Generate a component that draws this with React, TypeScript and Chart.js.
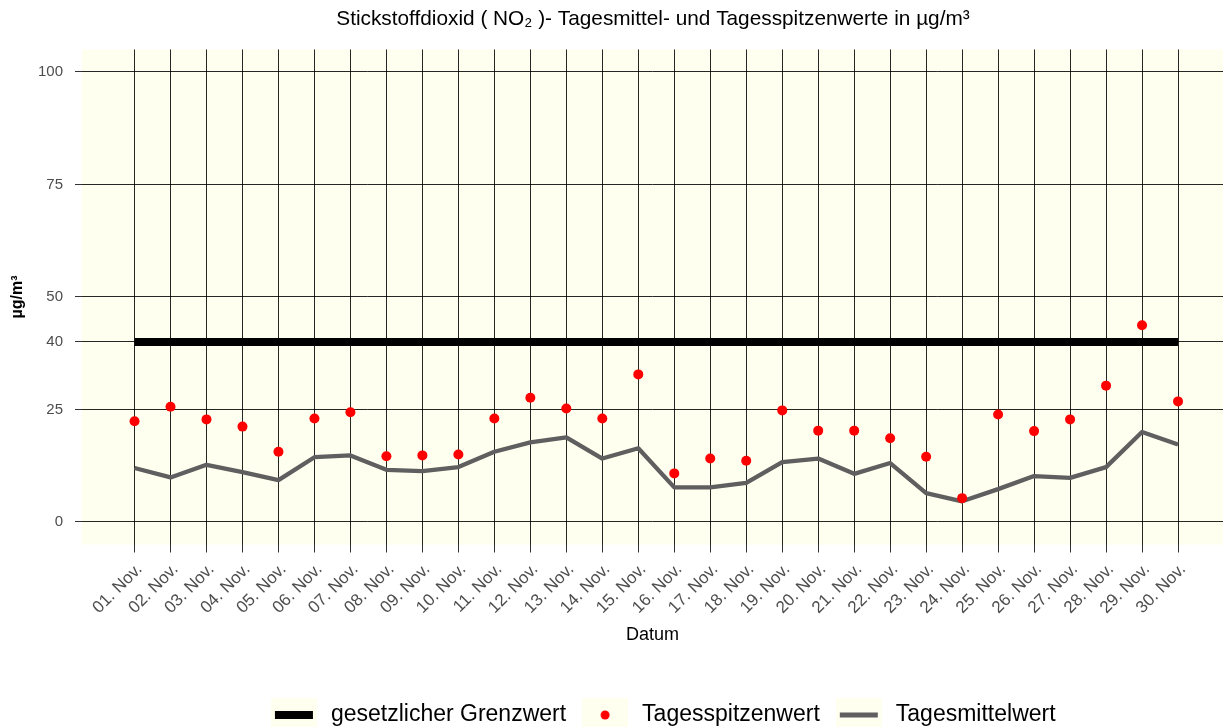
import React, { useEffect, useRef } from 'react';
import { Chart, registerables } from 'chart.js';

Chart.register(...registerables);

const days = [1, 2, 3, 4, 5, 6, 7, 8, 9, 10, 11, 12, 13, 14, 15, 16, 17, 18, 19, 20, 21, 22, 23, 24, 25, 26, 27, 28, 29, 30];
const tickLabels = [
  '01. Nov.', '02. Nov.', '03. Nov.', '04. Nov.', '05. Nov.', '06. Nov.', '07. Nov.', '08. Nov.', '09. Nov.', '10. Nov.',
  '11. Nov.', '12. Nov.', '13. Nov.', '14. Nov.', '15. Nov.', '16. Nov.', '17. Nov.', '18. Nov.', '19. Nov.', '20. Nov.',
  '21. Nov.', '22. Nov.', '23. Nov.', '24. Nov.', '25. Nov.', '26. Nov.', '27. Nov.', '28. Nov.', '29. Nov.', '30. Nov.',
];
const peakValues = [22.4, 25.6, 22.8, 21.2, 15.6, 23.0, 24.4, 14.6, 14.8, 15.0, 23.0, 27.6, 25.2, 23.0, 32.8, 10.8, 14.1, 13.6, 24.8, 20.3, 20.3, 18.6, 14.5, 5.3, 23.9, 20.2, 22.8, 30.3, 43.7, 26.8];
const meanValues = [12.0, 9.9, 12.7, 11.1, 9.3, 14.4, 14.8, 11.6, 11.3, 12.2, 15.6, 17.7, 18.8, 14.1, 16.4, 7.7, 7.7, 8.7, 13.3, 14.1, 10.7, 13.1, 6.4, 4.6, 7.3, 10.2, 9.8, 12.2, 20.0, 17.2];
const limitValue = 40;
const yTicks = [0, 25, 40, 50, 75, 100];

const FONT = "'Liberation Sans', Arial, sans-serif";
const PANEL_BG = '#fffff0';

function makeKey(kind: 'thick' | 'dot' | 'grey'): HTMLCanvasElement {
  const c = document.createElement('canvas');
  c.width = 46;
  c.height = 34;
  const ctx = c.getContext('2d')!;
  ctx.fillStyle = PANEL_BG;
  ctx.fillRect(0, 0, 46, 34);
  if (kind === 'dot') {
    ctx.fillStyle = '#ff0000';
    ctx.beginPath();
    ctx.arc(23, 17, 4.5, 0, Math.PI * 2);
    ctx.fill();
  } else {
    ctx.strokeStyle = kind === 'thick' ? '#000000' : '#5f5f5f';
    ctx.lineWidth = kind === 'thick' ? 8 : 5;
    ctx.beginPath();
    ctx.moveTo(4, 17);
    ctx.lineTo(42, 17);
    ctx.stroke();
  }
  return c;
}

export default function App() {
  const ref = useRef<HTMLCanvasElement | null>(null);

  useEffect(() => {
    document.body.style.margin = '0';
    const canvas = ref.current;
    if (!canvas) return;

    const keys = {
      limit: makeKey('thick'),
      peak: makeKey('dot'),
      mean: makeKey('grey'),
    };

    const bgPlugin = {
      id: 'panelBg',
      afterLayout(chart: any) {
        const area = chart.chartArea;
        const extra = chart.width - area.right;
        if (extra > 0) {
          area.right = chart.width;
          area.width = area.right - area.left;
          const xs = chart.scales.x;
          xs.right = chart.width;
          xs.width = xs.right - xs.left;
          xs.configure();
          const ys = chart.scales.y;
          ys.configure();
        }
        if (chart.legend) {
          chart.legend.left += 12;
          chart.legend.right += 12;
        }
        if (chart.titleBlock) {
          chart.titleBlock.left += 3;
          chart.titleBlock.right += 3;
        }
      },
      beforeDraw(chart: any) {
        const { ctx, chartArea } = chart;
        ctx.save();
        ctx.fillStyle = '#ffffff';
        ctx.fillRect(0, 0, chart.width, chart.height);
        ctx.fillStyle = PANEL_BG;
        ctx.fillRect(chartArea.left, chartArea.top, chartArea.right - chartArea.left, chartArea.bottom - chartArea.top);
        ctx.restore();
      },
    };

    const chart = new Chart(canvas, {
      type: 'line',
      data: {
        datasets: [
          {
            label: 'Tagesspitzenwert',
            data: days.map((d, i) => ({ x: d, y: peakValues[i] })),
            showLine: false,
            pointRadius: 5,
            pointBackgroundColor: '#ff0000',
            pointBorderWidth: 0,
            pointBorderColor: '#ff0000',
            order: 0,
          },
          {
            label: 'Tagesmittelwert',
            data: days.map((d, i) => ({ x: d, y: meanValues[i] })),
            borderColor: '#5f5f5f',
            borderWidth: 4.3,
            pointRadius: 0,
            borderJoinStyle: 'round',
            order: 1,
          },
          {
            label: 'gesetzlicher Grenzwert',
            data: days.map((d) => ({ x: d, y: limitValue })),
            borderColor: '#000000',
            borderWidth: 8,
            pointRadius: 0,
            order: 2,
          },
        ],
      },
      options: {
        animation: false,
        responsive: false,
        events: [],
        layout: { padding: { left: 0, right: 0, top: 0, bottom: -9.5 } },
        scales: {
          x: {
            type: 'linear',
            min: 1 - 1.46,
            max: 30 + 1.25,
            afterBuildTicks: (s: any) => {
              s.ticks = days.map((v) => ({ value: v }));
            },
            afterFit: (s: any) => {
              s.height = 145.5;
            },
            ticks: {
              autoSkip: false,
              maxRotation: 45,
              minRotation: 45,
              color: '#4d4d4d',
              font: { family: FONT, size: 17 },
              padding: 7,
              labelOffset: 5,
              callback: (v: any) => tickLabels[Number(v) - 1],
            },
            grid: {
              color: 'rgba(0,0,0,0.85)',
              lineWidth: 1,
              tickLength: 8,
              tickColor: '#333333',
            },
            border: { display: false },
            title: {
              display: true,
              text: 'Datum',
              color: '#000000',
              font: { family: FONT, size: 18 },
              padding: { top: 4, bottom: 44.5 },
            },
          },
          y: {
            type: 'linear',
            min: -5,
            max: 105,
            afterBuildTicks: (s: any) => {
              s.ticks = yTicks.map((v) => ({ value: v }));
            },
            afterFit: (s: any) => {
              s.width = 82;
            },
            ticks: {
              color: '#4d4d4d',
              font: { family: FONT, size: 15 },
              padding: 12,
            },
            grid: {
              color: 'rgba(0,0,0,0.85)',
              lineWidth: 1,
              tickLength: 7,
              tickColor: '#333333',
            },
            border: { display: false },
            title: {
              display: true,
              text: 'µg/m³',
              color: '#000000',
              font: { family: FONT, size: 16, weight: 'bold' },
              padding: { top: 8, bottom: 0 },
            },
          },
        },
        plugins: {
          tooltip: { enabled: false },
          title: {
            display: true,
            fullSize: false,
            text: 'Stickstoffdioxid ( NO₂ )- Tagesmittel- und Tagesspitzenwerte in µg/m³',
            color: '#000000',
            font: { family: FONT, size: 20.8, weight: 'normal' },
            padding: { top: 7, bottom: 17.5 },
          },
          legend: {
            display: true,
            position: 'bottom',
            fullSize: false,
            labels: {
              usePointStyle: true,
              pointStyleWidth: 51,
              padding: 13.5,
              color: '#000000',
              font: { family: FONT, size: 23 },
              generateLabels: () => [
                { text: 'gesetzlicher Grenzwert', pointStyle: keys.limit, datasetIndex: 2, hidden: false, fillStyle: '#000', strokeStyle: '#000', lineWidth: 0 },
                { text: 'Tagesspitzenwert', pointStyle: keys.peak, datasetIndex: 0, hidden: false, fillStyle: '#f00', strokeStyle: '#f00', lineWidth: 0 },
                { text: 'Tagesmittelwert', pointStyle: keys.mean, datasetIndex: 1, hidden: false, fillStyle: '#5f5f5f', strokeStyle: '#5f5f5f', lineWidth: 0 },
              ] as any,
            },
          },
        },
      } as any,
      plugins: [bgPlugin],
    });

    return () => {
      chart.destroy();
    };
  }, []);

  return (
    <div style={{ width: 1223, height: 727, position: 'relative' }}>
      <canvas ref={ref} width={1223} height={727} style={{ display: 'block', width: 1223, height: 727 }} />
    </div>
  );
}
